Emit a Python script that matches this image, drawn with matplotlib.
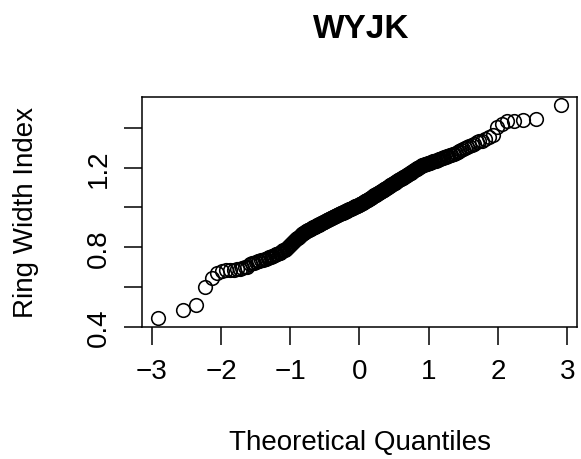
import matplotlib
matplotlib.use("Agg")
import matplotlib.pyplot as plt
import numpy as np
from statistics import NormalDist

plt.rcParams.update({"font.family": ["Liberation Sans", "DejaVu Sans"]})

SITE = "WYJK"

# sorted ring width index values
ring_width = [
    0.443, 0.485, 0.510, 0.600, 0.645, 0.670, 0.680,
    0.684, 0.686, 0.688, 0.690, 0.693, 0.696, 0.699, 0.702,
    0.716, 0.720, 0.723, 0.726, 0.729, 0.732, 0.735, 0.737, 0.740, 0.743,
    0.746, 0.749, 0.752, 0.755, 0.758, 0.761, 0.764, 0.767, 0.770, 0.773,
    0.776, 0.780, 0.784, 0.788, 0.792, 0.796, 0.800, 0.805, 0.810, 0.815,
    0.820, 0.825, 0.830, 0.835, 0.840, 0.845, 0.849, 0.853, 0.857, 0.861,
    0.865, 0.868, 0.871, 0.874, 0.877,
    0.880, 0.882, 0.885, 0.887, 0.889, 0.891, 0.893, 0.895, 0.897, 0.900,
    0.902, 0.904, 0.906, 0.908, 0.910, 0.912, 0.914, 0.916, 0.918, 0.920,
    0.922, 0.924, 0.926, 0.928, 0.929, 0.931, 0.933, 0.935, 0.937, 0.939,
    0.941, 0.942, 0.944, 0.946, 0.947, 0.949, 0.950, 0.952, 0.954, 0.956,
    0.957, 0.959, 0.960, 0.962, 0.963, 0.965, 0.966, 0.968, 0.970, 0.971,
    0.973, 0.974, 0.976, 0.977, 0.979, 0.980, 0.982, 0.983, 0.985, 0.987,
    0.988, 0.990, 0.991, 0.993, 0.994, 0.996, 0.997, 0.999, 1.000, 1.002,
    1.003, 1.005, 1.006, 1.008, 1.009, 1.010, 1.012, 1.013, 1.015, 1.016,
    1.018, 1.020, 1.022, 1.024, 1.026, 1.028, 1.030, 1.032, 1.034, 1.036,
    1.038, 1.040, 1.042, 1.044, 1.046, 1.048, 1.050, 1.052, 1.054, 1.057,
    1.059, 1.061, 1.063, 1.065, 1.067, 1.069, 1.071, 1.073, 1.075, 1.077,
    1.079, 1.081, 1.083, 1.085, 1.087, 1.090, 1.092, 1.094, 1.096, 1.098,
    1.100, 1.102, 1.105, 1.107, 1.109, 1.111, 1.113, 1.116, 1.118, 1.120,
    1.122, 1.125, 1.127, 1.129, 1.132, 1.134, 1.136, 1.139, 1.141, 1.143,
    1.145, 1.148, 1.150, 1.153, 1.155, 1.157, 1.160, 1.162, 1.165, 1.167,
    1.170, 1.172, 1.175, 1.178, 1.180, 1.183, 1.186, 1.188, 1.191, 1.194,
    1.196, 1.199, 1.202, 1.205, 1.208, 1.211, 1.212, 1.214, 1.216, 1.218,
    1.220, 1.222, 1.224, 1.225, 1.227, 1.229, 1.231, 1.233, 1.235, 1.237,
    1.239, 1.242, 1.244, 1.247, 1.249, 1.251, 1.254, 1.256, 1.258, 1.261,
    1.264, 1.266, 1.269, 1.273, 1.277, 1.282, 1.287, 1.292, 1.297, 1.302,
    1.308, 1.314, 1.320, 1.327, 1.333, 1.335, 1.343, 1.352, 1.362, 1.405,
    1.420, 1.432, 1.435, 1.437, 1.445, 1.512,
]

x_ticks = [-3, -2, -1, 0, 1, 2, 3]
y_ticks = [0.4, 0.6, 0.8, 1.0, 1.2, 1.4]
y_labels = ["0.4", "", "0.8", "", "1.2", ""]

# theoretical quantiles as in R's qqnorm (ppoints, a = 0.5)
y = np.sort(np.array(ring_width))
n = len(y)
nd = NormalDist()
q = np.array([nd.inv_cdf((i - 0.5) / n) for i in range(1, n + 1)])

fig = plt.figure(figsize=(5.81, 4.60), dpi=100)
ax = fig.add_axes([0.2444, 0.287, 0.7487, 0.500])
ax.plot(q, y, "o", mfc="none", mec="black", ms=9.8, mew=1.15)

pad = lambda v: (v.max() - v.min()) * 0.04
ax.set_xlim(q.min() - pad(q), q.max() + pad(q))
ax.set_ylim(y.min() - pad(y), y.max() + pad(y))
ax.set_xticks(x_ticks)
ax.set_xticklabels([f"\u2212{abs(t)}" if t < 0 else str(t) for t in x_ticks])
ax.set_yticks(y_ticks)
ax.set_yticklabels(y_labels, rotation=90, va="center")
ax.tick_params(direction="out", length=13, width=1.1, labelsize=20, pad=9)
for s in ax.spines.values():
    s.set_linewidth(1.1)

fig.text(0.622, 1 - 30 / 460, SITE, ha="center", va="center",
         fontsize=24, fontweight="bold")
fig.text(0.619, 1 - 443 / 460, "Theoretical Quantiles", ha="center",
         va="center", fontsize=20)
fig.text(26 / 581, 1 - 212 / 460, "Ring Width Index", ha="center",
         va="center", rotation=90, fontsize=20)

fig.savefig("out.png", dpi=100)
